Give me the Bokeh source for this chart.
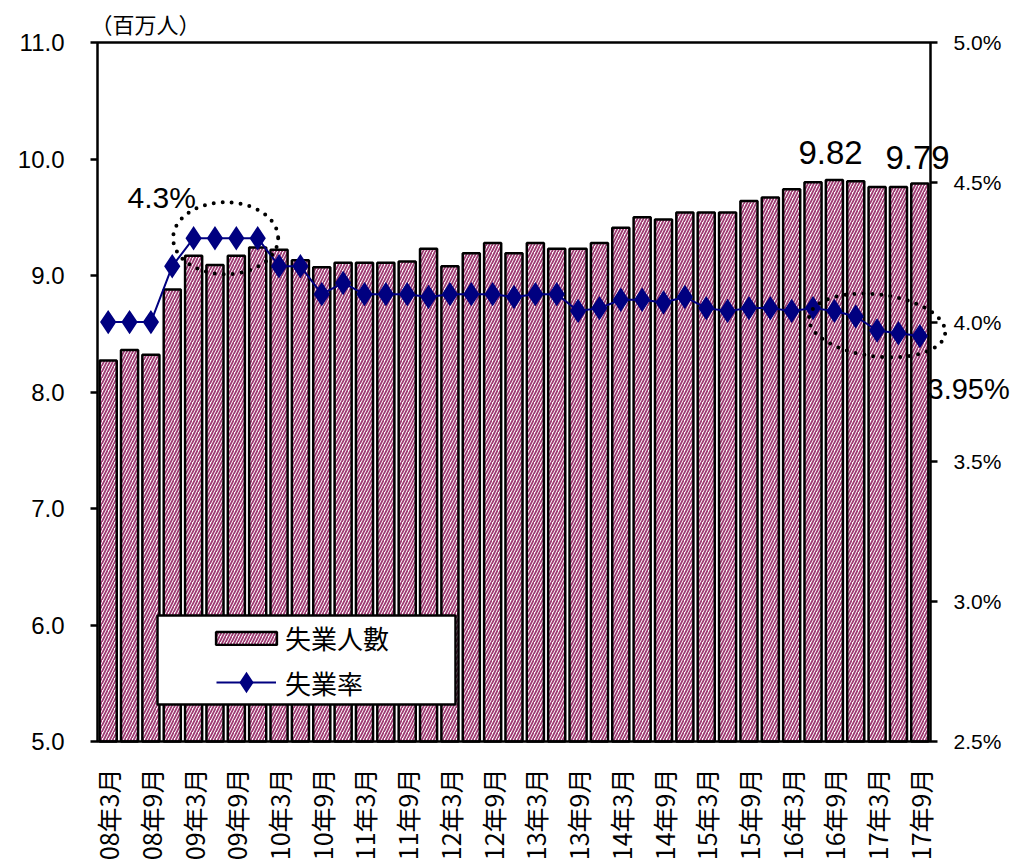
import math
from bokeh.plotting import figure
from bokeh.models import (Range1d, LinearAxis, FixedTicker, PrintfTickFormatter,
                          Label, Legend, LegendItem, ColumnDataSource, BoxAnnotation)
from bokeh.embed import file_html
from bokeh.resources import INLINE

# ---------------- data ----------------
periods = [f"{y:02d}年{m}月" for y in range(8, 18) for m in (3, 6, 9, 12)][:39]
unemployed = [8.27, 8.36, 8.32, 8.88, 9.17, 9.09, 9.17, 9.24, 9.22, 9.13,
              9.07, 9.11, 9.11, 9.11, 9.12, 9.23, 9.08, 9.19, 9.28, 9.19,
              9.28, 9.23, 9.23, 9.28, 9.41, 9.50, 9.48, 9.54, 9.54, 9.54,
              9.64, 9.67, 9.74, 9.80, 9.82, 9.81, 9.76, 9.76, 9.79]
rate = [4.00, 4.00, 4.00, 4.20, 4.30, 4.30, 4.30, 4.30, 4.20, 4.20,
        4.10, 4.14, 4.10, 4.10, 4.10, 4.09, 4.10, 4.10, 4.10, 4.09,
        4.10, 4.10, 4.04, 4.05, 4.08, 4.08, 4.07, 4.09, 4.05, 4.04,
        4.05, 4.05, 4.04, 4.05, 4.04, 4.02, 3.97, 3.96, 3.95]
left_ticks = [5.0, 6.0, 7.0, 8.0, 9.0, 10.0, 11.0]
right_ticks = [2.5, 3.0, 3.5, 4.0, 4.5, 5.0]
series_names = ["失業人數", "失業率"]
unit_label = "（百万人）"

# ---------------- layout (pixels) ----------------
W, H = 1014, 864
AX_L, AX_T = 97, 42        # plot-area left / top (page px)
AX_R, AX_B = 930, 741      # plot-area right / bottom (page px)
FB = 755                   # bottom of the drawing frame (x labels below it)
n = len(periods)
slot = (AX_R - AX_L) / n   # pixels per bar slot
cnt_per_px = (left_ticks[-1] - left_ticks[0]) / (AX_B - AX_T)
rate_per_px = (right_ticks[-1] - right_ticks[0]) / (AX_B - AX_T)

def dx(px):   # page x -> data x
    return -0.5 + (px - AX_L) / slot

def dy(py):   # page y -> count axis value
    return left_ticks[-1] - (py - AX_T) * cnt_per_px

def dr(py):   # page y -> rate axis value
    return right_ticks[-1] - (py - AX_T) * rate_per_px

xs = list(range(n))
src = ColumnDataSource(dict(x=xs, count=unemployed, rate=rate, period=periods))

JP = "Noto Sans CJK JP"
NUM = "Liberation Sans"

p = figure(width=W, height=H, output_backend="svg", toolbar_location=None,
           x_range=Range1d(dx(0), dx(W)), y_range=Range1d(dy(FB), dy(0)),
           min_border_left=0, min_border_right=0, min_border_top=0,
           min_border_bottom=H - FB)
p.extra_y_ranges = {"rate": Range1d(dr(FB), dr(0))}
p.xgrid.visible = False
p.ygrid.visible = False
p.outline_line_color = None
p.background_fill_color = "white"
p.border_fill_color = "white"

# x axis
xa = p.xaxis[0]
xa.ticker = FixedTicker(ticks=xs[::2])
xa.major_label_overrides = {i: periods[i] for i in xs[::2]}
xa.major_label_orientation = math.pi / 2
xa.major_tick_out = 0
xa.major_tick_in = 0
xa.minor_tick_out = 0
xa.minor_tick_in = 0
xa.major_label_standoff = 13
xa.major_label_text_font = JP
xa.major_label_text_font_size = "25px"
xa.major_label_text_color = "black"
xa.axis_line_color = None

# left axis (at the start of the bars)
ya = p.yaxis[0]
ya.fixed_location = -0.5
ya.ticker = FixedTicker(ticks=left_ticks)
ya.formatter = PrintfTickFormatter(format="%.1f")
ya.major_tick_out = 7
ya.major_tick_in = 0
ya.minor_tick_out = 0
ya.minor_tick_in = 0
ya.major_tick_line_width = 2.5
ya.major_label_standoff = 26
ya.major_label_text_font = NUM
ya.major_label_text_font_size = "24px"
ya.major_label_text_color = "black"
ya.axis_line_color = None

# right axis (at the end of the bars)
ra = LinearAxis(y_range_name="rate", ticker=FixedTicker(ticks=right_ticks),
                formatter=PrintfTickFormatter(format="%.1f%%"), fixed_location=n - 0.5)
ra.major_tick_out = 7
ra.major_tick_in = 0
ra.minor_tick_out = 0
ra.minor_tick_in = 0
ra.major_tick_line_width = 2.5
ra.major_label_standoff = 16
ra.major_label_text_font = NUM
ra.major_label_text_font_size = "21px"
ra.major_label_text_color = "black"
ra.axis_line_color = None
p.add_layout(ra, "right")

# bars
bars = p.vbar(x="x", top="count", bottom=left_ticks[0], width=0.8, source=src,
              fill_color="white", hatch_pattern="/", hatch_color="#9E3A72",
              hatch_scale=6, hatch_weight=1.8, line_color="black", line_width=2.5)

# rate line
ln = p.line(x="x", y="rate", source=src, y_range_name="rate",
            line_color="#000080", line_width=2)
pts = p.scatter(x="x", y="rate", source=src, y_range_name="rate", marker="diamond",
                size=19, fill_color="#000080", line_color="#000080", line_width=3,
                line_join="miter")

# plot-area border
p.add_layout(BoxAnnotation(left=-0.5, right=n - 0.5, bottom=left_ticks[0],
                           top=left_ticks[-1], fill_alpha=0, line_color="black",
                           line_alpha=1, line_width=2.5))

# dotted ellipses around peak and latest values
peak = max(rate)
peak_idx = [i for i, r in enumerate(rate) if r == peak]
pcx = sum(peak_idx) / len(peak_idx)
p.ellipse(x=[pcx], y=[peak], width=[105], height=[72], width_units="screen",
          height_units="screen", y_range_name="rate", fill_alpha=0,
          line_color="black", line_width=4, line_dash="0 9", line_cap="round")
last = list(range(n - 5, n))
lcx = sum(last) / len(last)
lcy = sum(rate[i] for i in last) / len(last)
p.ellipse(x=[lcx], y=[lcy], width=[137], height=[62], width_units="screen",
          height_units="screen", angle=-0.12, y_range_name="rate", fill_alpha=0,
          line_color="black", line_width=4, line_dash="0 9", line_cap="round")

# annotations
p.add_layout(Label(x=dx(127), y=dr(197), y_range_name="rate",
                   text=f"{peak:.1f}%", text_font=NUM, text_font_size="30px",
                   text_align="left", text_baseline="alphabetic", text_color="black"))
imax = unemployed.index(max(unemployed))
p.add_layout(Label(x=dx(830), y=dy(152),
                   text=f"{unemployed[imax]:.2f}", text_font=NUM, text_font_size="33px",
                   text_align="center", text_baseline="alphabetic", text_color="black"))
p.add_layout(Label(x=dx(917), y=dy(157),
                   text=f"{unemployed[-1]:.2f}", text_font=NUM, text_font_size="33px",
                   text_align="center", text_baseline="alphabetic", text_color="black"))
p.add_layout(Label(x=dx(927), y=dr(388), y_range_name="rate",
                   text=f"{rate[-1]:.2f}%", text_font=NUM, text_font_size="29px",
                   text_align="left", text_baseline="alphabetic", text_color="black"))
p.add_layout(Label(x=dx(90), y=dy(38), text=unit_label, text_font=JP,
                   text_font_size="22px", text_align="left",
                   text_baseline="bottom", text_color="black"))

# legend: frame box + two legends
p.add_layout(BoxAnnotation(left=dx(157), right=dx(455), top=dy(615), bottom=dy(704),
                           fill_color="white", fill_alpha=1, line_color="black",
                           line_alpha=1, line_width=2.5))
common = dict(orientation="vertical", padding=0, margin=0, spacing=0,
              label_text_font=JP, label_text_font_size="26px", label_text_color="black",
              border_line_color=None, background_fill_alpha=0)
leg1 = Legend(items=[LegendItem(label=series_names[0], renderers=[bars])],
              location=(208, FB - 656), glyph_width=76, glyph_height=16,
              label_height=37, label_standoff=1, **common)
leg2 = Legend(items=[LegendItem(label=series_names[1], renderers=[ln, pts])],
              location=(216, FB - 702), glyph_width=60, glyph_height=40,
              label_height=37, label_standoff=9, **common)
p.add_layout(leg1)
p.add_layout(leg2)

open("out.html", "w").write(file_html(p, INLINE))
